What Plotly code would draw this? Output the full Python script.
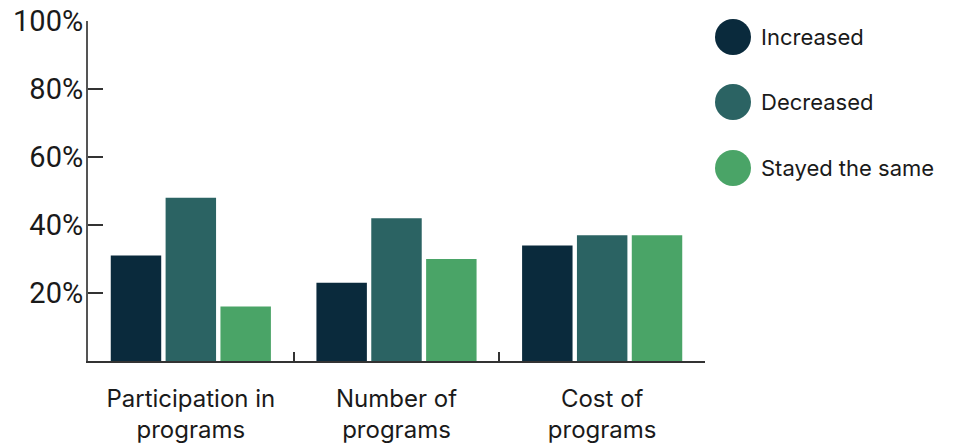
import plotly.graph_objects as go

# Survey results: share of respondents per change direction
categories = ["Participation in<br>programs", "Number of<br>programs", "Cost of<br>programs"]
series_names = ["Increased", "Decreased", "Stayed the same"]
increased = [31, 23, 34]
decreased = [48, 42, 37]
stayed_same = [16, 30, 37]
y_ticks = [0, 20, 40, 60, 80, 100]
y_tick_labels = ["", "20%", "40%", "60%", "80%", "100%"]

colors = ["#0a2a3c", "#2b6363", "#4aa467"]
values = [increased, decreased, stayed_same]

fig = go.Figure()
for name, vals, col in zip(series_names, values, colors):
    fig.add_trace(go.Bar(x=categories, y=vals, name=name, marker_color=col,
                         marker_line_width=0, showlegend=False))

# Custom circular legend on the right
legend_x = 733
legend_y = [37, 102, 168]
shapes = []
annotations = []
for name, col, ly in zip(series_names, colors, legend_y):
    shapes.append(dict(type="circle", xref="paper", yref="paper",
                       xsizemode="pixel", ysizemode="pixel",
                       xanchor=(legend_x - 88) / 617.0, yanchor=(361 - ly) / 340.0,
                       x0=-18, x1=18, y0=-18, y1=18,
                       fillcolor=col, line_width=0))
    annotations.append(dict(text=name, xref="paper", yref="paper",
                            x=(759 - 88) / 617.0, y=(361 - ly) / 340.0,
                            xanchor="left", yanchor="middle", showarrow=False,
                            font=dict(family="Inter", size=22, color="#1a1a1a")))

fig.update_layout(
    width=953, height=444,
    margin=dict(l=88, r=248, t=21, b=83),
    plot_bgcolor="white", paper_bgcolor="white",
    barmode="group", bargap=0.2, bargroupgap=0.08,
    shapes=shapes, annotations=annotations,
)
fig.update_xaxes(
    type="category", showline=True, linecolor="#333333", linewidth=2,
    ticks="inside", tickson="boundaries", ticklen=9, tickcolor="#333333", tickwidth=1.5,
    tickfont=dict(family="Inter", size=24, color="#1a1a1a"),
    ticklabelstandoff=15, showgrid=False, zeroline=False, automargin=False,
)
fig.update_yaxes(
    range=[0, 100], tickvals=y_ticks, ticktext=y_tick_labels,
    showline=True, linecolor="#555555", linewidth=2,
    ticks="inside", ticklen=15, tickcolor="#333333", tickwidth=1.5,
    tickfont=dict(family="Roboto", size=29, color="#1a1a1a"),
    ticklabelstandoff=-3,
    showgrid=False, zeroline=False, automargin=False,
)

fig.write_html("out.html")
